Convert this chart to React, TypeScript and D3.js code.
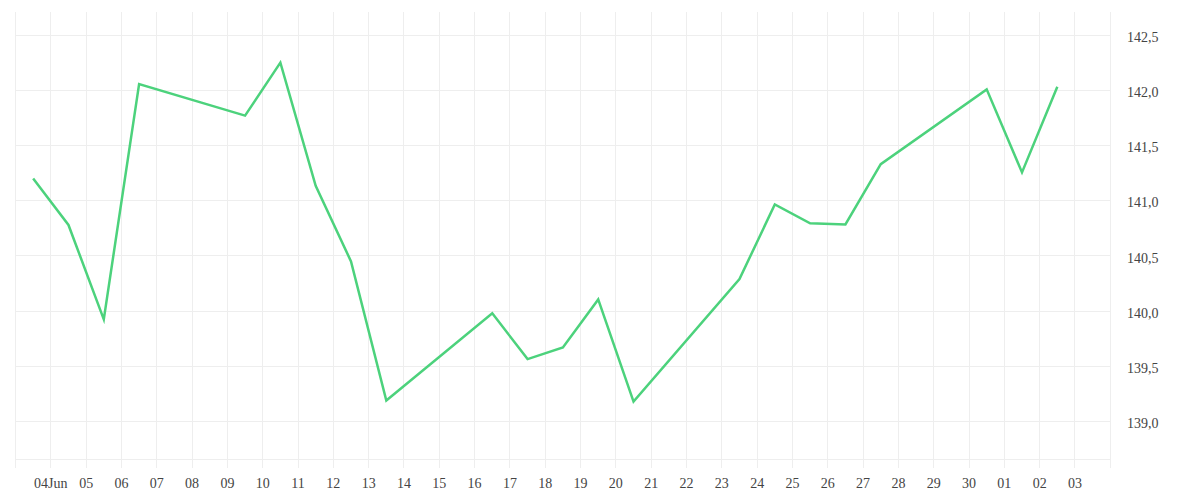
import { useMemo } from 'react';
import { scaleLinear, scaleUtc, line as d3line, utcDay, utcFormat, formatLocale, range } from 'd3';

// Daily closes (trading days only), plotted at midday.
const DATES = [
  '2025-06-03', '2025-06-04', '2025-06-05', '2025-06-06',
  '2025-06-09', '2025-06-10', '2025-06-11', '2025-06-12', '2025-06-13',
  '2025-06-16', '2025-06-17', '2025-06-18', '2025-06-19', '2025-06-20',
  '2025-06-23', '2025-06-24', '2025-06-25', '2025-06-26', '2025-06-27',
  '2025-06-30', '2025-07-01', '2025-07-02',
];
const VALUES = [
  141.2, 140.78, 139.925, 142.055,
  141.77, 142.25, 141.135, 140.45, 139.19,
  139.98, 139.565, 139.67, 140.105, 139.18,
  140.29, 140.965, 140.795, 140.785, 141.33,
  142.008, 141.256, 142.032,
];
const Y_TICKS = [139, 139.5, 140, 140.5, 141, 141.5, 142, 142.5];
const X_START = '2025-06-03';
const X_END = '2025-07-04';
const Y_DOMAIN: [number, number] = [138.66, 142.706];

const W = 1200;
const H = 500;
const PLOT = { left: 15.5, right: 1110.3, top: 12.3, bottom: 459 };
const GRID = '#eeeeee';
const TEXT = '#444444';
const FONT = '"Liberation Serif", "Times New Roman", serif';

const fmtNum = formatLocale({ decimal: ',', thousands: '.', grouping: [3], currency: ['', ''] }).format('.1f');
const fmtDay = utcFormat('%d');
const fmtFirst = utcFormat('%d%b');

export default function App() {
  const { x, y, path, dayTicks } = useMemo(() => {
    const x = scaleUtc()
      .domain([new Date(X_START + 'T00:00:00Z'), new Date(X_END + 'T00:00:00Z')])
      .range([PLOT.left, PLOT.right]);
    const y = scaleLinear().domain(Y_DOMAIN).range([PLOT.bottom, PLOT.top]);
    const pts = DATES.map((d, i) => ({ t: new Date(d + 'T12:00:00Z'), v: VALUES[i] }));
    const path =
      d3line<{ t: Date; v: number }>()
        .x((d) => x(d.t))
        .y((d) => y(d.v))(pts) ?? '';
    const dayTicks = utcDay.range(x.domain()[0], utcDay.offset(x.domain()[1], 1));
    return { x, y, path, dayTicks };
  }, []);

  const labelTicks = dayTicks.slice(1, -1);

  return (
    <div style={{ position: 'fixed', left: 0, top: 0, width: W, height: H, background: '#fff' }}>
      <svg width={W} height={H}>
        {/* vertical day grid, running a little below the axis */}
        {dayTicks.map((t) => (
          <line
            key={+t}
            x1={x(t)}
            x2={x(t)}
            y1={PLOT.top}
            y2={PLOT.bottom + 9}
            stroke={GRID}
            strokeWidth={1}
            shapeRendering="crispEdges"
          />
        ))}
        {Y_TICKS.map((v) => (
          <line
            key={v}
            x1={PLOT.left}
            x2={PLOT.right}
            y1={y(v)}
            y2={y(v)}
            stroke={GRID}
            strokeWidth={1}
            shapeRendering="crispEdges"
          />
        ))}
        <line
          x1={PLOT.left}
          x2={PLOT.right}
          y1={PLOT.bottom}
          y2={PLOT.bottom}
          stroke={GRID}
          strokeWidth={1}
          shapeRendering="crispEdges"
        />

        <path d={path} fill="none" stroke="#4cd27c" strokeWidth={2.5} strokeLinejoin="miter" />

        {Y_TICKS.map((v) => (
          <text key={v} x={1127} y={y(v) + 6.7} fontSize={14} fontFamily={FONT} fill={TEXT}>
            {fmtNum(v)}
          </text>
        ))}
        {labelTicks.map((t, i) => (
          <text
            key={+t}
            x={x(t)}
            y={488}
            textAnchor="middle"
            fontSize={14}
            fontFamily={FONT}
            fill={TEXT}
          >
            {i === 0 ? fmtFirst(t) : fmtDay(t)}
          </text>
        ))}
      </svg>
    </div>
  );
}
